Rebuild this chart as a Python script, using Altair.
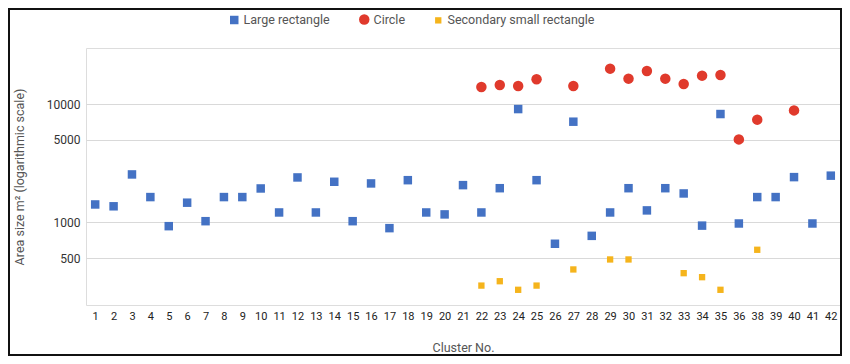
import altair as alt
import pandas as pd

clusters = [str(i) for i in range(1, 37)] + ["38", "39", "40", "41", "42"]

large_rect = [1420, 1370, 2550, 1640, 930, 1470, 1025, 1640, 1640, 1940,
              1215, 2405, 1215, 2210, 1025, 2140, 895, 2280, 1215, 1170,
              2070, 1215, 1950, 9120, 2280, 660, 7130, 770, 1215, 1950,
              1265, 1950, 1760, 940, 8280, 980, 1640, 1640, 2420, 980, 2490]

circle_clusters = ["22", "23", "24", "25", "27", "29", "30", "31", "32", "33",
                   "34", "35", "36", "38", "40"]
circle_vals = [14020, 14580, 14290, 16290, 14290, 20060, 16510, 19150, 16510,
               14860, 17500, 17710, 5050, 7420, 8890]

small_clusters = ["22", "23", "24", "25", "27", "29", "30", "33", "34", "35", "38"]
small_vals = [292, 318, 269, 292, 400, 486, 486, 372, 344, 269, 587]

series_names = ["Large rectangle", "Circle", "Secondary small rectangle"]
series_colors = ["#4472C4", "#E03A2C", "#F5B41C"]
series_shapes = ["square", "circle", "square"]
series_sizes = [72, 110, 40]
y_ticks = [500, 1000, 5000, 10000]

rows = []
for c, v in zip(clusters, large_rect):
    rows.append({"cluster": c, "value": v, "series": series_names[0]})
for c, v in zip(circle_clusters, circle_vals):
    rows.append({"cluster": c, "value": v, "series": series_names[1]})
for c, v in zip(small_clusters, small_vals):
    rows.append({"cluster": c, "value": v, "series": series_names[2]})
df = pd.DataFrame(rows)

W, H = 754, 257
FONT = "Roboto"

points = alt.Chart(df).mark_point(filled=True, opacity=1).encode(
    x=alt.X("cluster:O", sort=clusters,
            scale=alt.Scale(type="point", padding=0.5),
            axis=alt.Axis(title="Cluster No.", labelAngle=0, ticks=False, domain=False,
                          grid=False, labelPadding=5, labelFontSize=11,
                          labelColor="#222222", titleFontSize=12.5, titleColor="#555555",
                          titleFontWeight="normal", titlePadding=20, labelFont=FONT,
                          titleFont=FONT)),
    y=alt.Y("value:Q",
            scale=alt.Scale(type="log", domain=[200, 30000], nice=False),
            axis=alt.Axis(title="Area size m² (logarithmic scale)", values=y_ticks,
                          format="d", ticks=False, domain=False, grid=True,
                          gridColor="#D9D9D9", gridWidth=1, labelPadding=6,
                          labelFontSize=12, labelColor="#333333", titleFontSize=12.5,
                          titleColor="#555555", titleFontWeight="normal",
                          titlePadding=20, labelFont=FONT, titleFont=FONT)),
    color=alt.Color("series:N", sort=series_names,
                    scale=alt.Scale(domain=series_names, range=series_colors),
                    legend=alt.Legend(title=None, orient="none", direction="horizontal",
                                      legendX=142, legendY=-35, labelFontSize=12.5,
                                      labelColor="#555555", labelFont=FONT,
                                      columnPadding=26, labelOffset=3,
                                      symbolOpacity=1)),
    shape=alt.Shape("series:N", sort=series_names,
                    scale=alt.Scale(domain=series_names, range=series_shapes)),
    size=alt.Size("series:N", sort=series_names,
                  scale=alt.Scale(type="ordinal", domain=series_names,
                                  range=series_sizes)),
)

frame = alt.Chart(pd.DataFrame({"a": [0]})).mark_rect(
    fillOpacity=0, stroke="#111111", strokeWidth=2
).encode(x=alt.value(-77), x2=alt.value(W + 1), y=alt.value(-39), y2=alt.value(H + 50))

chart = alt.layer(points, frame).properties(
    width=W, height=H,
    autosize=alt.AutoSizeParams(type="none"),
    padding={"left": 78, "top": 40, "right": 2, "bottom": 51},
).configure_view(stroke=None).configure(font=FONT)

chart.save("out.html", embed_options={"renderer": "svg", "actions": False})
